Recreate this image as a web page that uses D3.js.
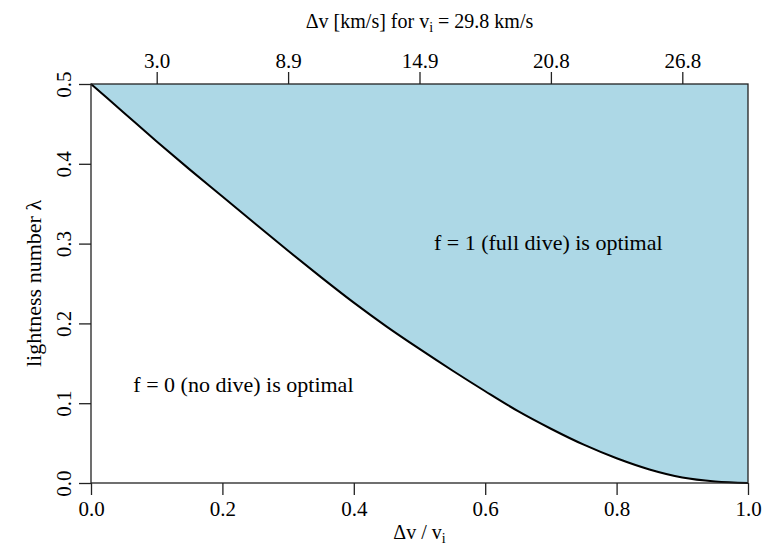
<!DOCTYPE html>
<html>
<head>
<meta charset="utf-8">
<script src="https://cdn.jsdelivr.net/npm/d3@7"></script>
<style>
  body { margin: 0; background: #fff; }
  svg text { font-family: "Liberation Serif", "Times New Roman", "DejaVu Serif", serif !important; fill: #000; }
</style>
</head>
<body>
<script>
// boundary curve: dv/vi vs lightness number
const ratio = [0, 0.05, 0.10, 0.15, 0.20, 0.25, 0.30, 0.35, 0.40, 0.45, 0.50,
               0.55, 0.60, 0.65, 0.70, 0.75, 0.80, 0.85, 0.90, 0.95, 1.00];
const lambda = [0.500, 0.464, 0.428, 0.393, 0.359, 0.325, 0.291, 0.258, 0.226, 0.196, 0.168,
                0.141, 0.115, 0.090, 0.068, 0.048, 0.031, 0.017, 0.007, 0.002, 0.000];

const bottom_ticks = [0, 0.2, 0.4, 0.6, 0.8, 1.0];
const left_ticks = [0, 0.1, 0.2, 0.3, 0.4, 0.5];
const top_ticks = [0.1, 0.3, 0.5, 0.7, 0.9];
const top_labels = ['3.0', '8.9', '14.9', '20.8', '26.8'];

const width = 778, height = 550;
const margins = {top: 84, bottom: 67, left: 91, right: 30};

let data = ratio.map(function (r, i) { return {x: r, y: lambda[i]}; });

var svg = d3.select('body')
    .append('svg')
    .attr('width', width)
    .attr('height', height);

var x_scale = d3.scaleLinear()
    .domain([0, 1])
    .range([margins.left, width - margins.right]);

var y_scale = d3.scaleLinear()
    .domain([0, 0.5])
    .range([height - margins.bottom, margins.top]);

// shaded region above the curve
var area = d3.area()
    .x(function (d) { return x_scale(d.x); })
    .y0(y_scale(0.5))
    .y1(function (d) { return y_scale(d.y); })
    .curve(d3.curveMonotoneX);

svg.append('path')
    .datum(data)
    .attr('d', area)
    .attr('fill', '#add8e6');

var line = d3.line()
    .x(function (d) { return x_scale(d.x); })
    .y(function (d) { return y_scale(d.y); })
    .curve(d3.curveMonotoneX);

svg.append('path')
    .datum(data)
    .attr('d', line)
    .attr('fill', 'none')
    .attr('stroke', '#000')
    .attr('stroke-width', 2);

// box
svg.append('rect')
    .attr('x', x_scale(0))
    .attr('y', y_scale(0.5))
    .attr('width', x_scale(1) - x_scale(0))
    .attr('height', y_scale(0) - y_scale(0.5))
    .attr('fill', 'none')
    .attr('stroke', '#222')
    .attr('stroke-width', 1.3);

let x_axis = d3.axisBottom(x_scale).tickValues(bottom_ticks).tickFormat(d3.format('.1f')).tickSize(12).tickPadding(6);
let top_axis = d3.axisTop(x_scale).tickValues(top_ticks)
    .tickFormat(function (d, i) { return top_labels[i]; }).tickSize(12).tickPadding(4);
let y_axis = d3.axisLeft(y_scale).tickValues(left_ticks).tickFormat(d3.format('.1f')).tickSize(12).tickPadding(6);

function style_axis(g) {
    g.attr('font-family', null);
    g.select('.domain').remove();
    g.selectAll('line').attr('stroke', '#222').attr('stroke-width', 1.3);
    g.selectAll('text').attr('font-size', 21);
}

svg.append('g')
    .attr('transform', 'translate(0,' + y_scale(0) + ')')
    .call(x_axis)
    .call(style_axis);

svg.append('g')
    .attr('transform', 'translate(0,' + y_scale(0.5) + ')')
    .call(top_axis)
    .call(style_axis);

var y_g = svg.append('g')
    .attr('transform', 'translate(' + x_scale(0) + ',0)')
    .call(y_axis)
    .call(style_axis);

// y tick labels run parallel to the axis
y_g.selectAll('.tick text')
    .attr('x', null).attr('dy', null)
    .attr('text-anchor', 'middle')
    .attr('transform', 'translate(-20,0) rotate(-90)');

// axis titles
svg.append('text')
    .attr('x', (x_scale(0) + x_scale(1)) / 2)
    .attr('y', 539)
    .attr('text-anchor', 'middle')
    .attr('font-size', 20)
    .html('Δv / v<tspan font-size="14" dy="4">i</tspan>');

svg.append('text')
    .attr('x', (x_scale(0) + x_scale(1)) / 2)
    .attr('y', 28)
    .attr('text-anchor', 'middle')
    .attr('font-size', 20)
    .html('Δv [km/s] for v<tspan font-size="14" dy="4">i</tspan><tspan dy="-4"> = 29.8 km/s</tspan>');

svg.append('text')
    .attr('transform', 'translate(41,' + (y_scale(0) + y_scale(0.5)) / 2 + ') rotate(-90)')
    .attr('text-anchor', 'middle')
    .attr('font-size', 22)
    .text('lightness number λ');

svg.append('text')
    .attr('x', x_scale(0.696))
    .attr('y', y_scale(0.292))
    .attr('text-anchor', 'middle')
    .attr('font-size', 22)
    .text('f = 1 (full dive) is optimal');

svg.append('text')
    .attr('x', x_scale(0.232))
    .attr('y', y_scale(0.114))
    .attr('text-anchor', 'middle')
    .attr('font-size', 22)
    .text('f = 0 (no dive) is optimal');
</script>
</body>
</html>
